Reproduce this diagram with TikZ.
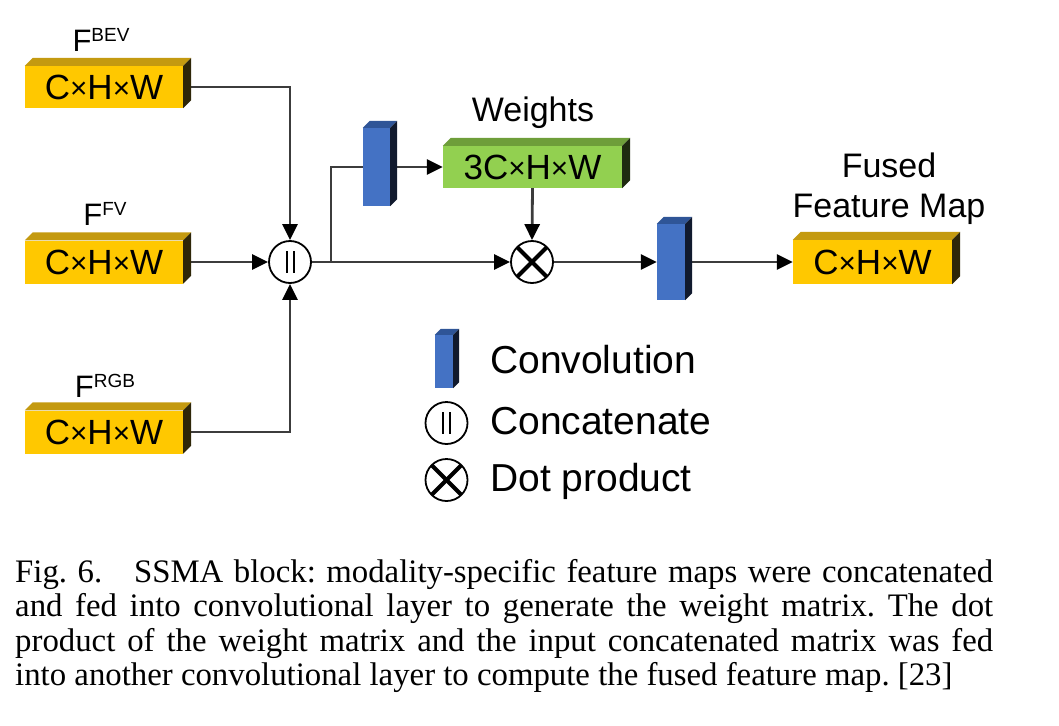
\documentclass[tikz,border=0pt]{standalone}
\usepackage{fontspec}
\setmainfont{Liberation Sans}
\newfontfamily\capfont{Liberation Serif}
\usetikzlibrary{arrows.meta,backgrounds}

\definecolor{yfront}{HTML}{FFC800}
\definecolor{ytop}{HTML}{C49A10}
\definecolor{yside}{HTML}{2E2608}
\definecolor{gfront}{HTML}{92D050}
\definecolor{gtop}{HTML}{6E9E3A}
\definecolor{gside}{HTML}{1E2A10}
\definecolor{bfront}{HTML}{4472C4}
\definecolor{btop}{HTML}{2F5597}
\definecolor{bside}{HTML}{111A2E}
\definecolor{linegray}{HTML}{3C3C3C}

\tikzset{
  slabnode/.style={inner sep=0pt, draw=none, text=black, font=\fontsize{35}{35}\selectfont},
  conn/.style={draw=linegray, line width=2.8pt, -{Triangle[length=16pt,width=15pt,color=black]}},
  plain/.style={draw=linegray, line width=2.8pt},
  opcircle/.style={circle, draw=black, line width=1.8pt, fill=white, minimum size=42pt, inner sep=0pt},
  lbl/.style={inner sep=0pt, font=\fontsize{34}{34}\selectfont},
  flbl/.style={inner sep=0pt, anchor=base, font=\fontsize{31}{31}\selectfont},
  leg/.style={inner sep=0pt, anchor=west, font=\fontsize{39}{39}\selectfont},
  capline/.style={inner sep=0pt, anchor=base west, font=\capfont\fontsize{32.8}{32.8}\selectfont\frenchspacing}
}

% #1 name, #2 centre, #3 width, #4 height, #5 depth, #6 colour prefix, #7 text
\newcommand\slab[7]{%
  \node[slabnode, minimum width=#3, minimum height=#4, fill=#6front] (#1) at #2 {#7};
  \fill[#6top] (#1.north west) -- ++(#5,-#5) -- ([shift={(#5,-#5)}]#1.north east) -- (#1.north east) -- cycle;
  \fill[#6side] (#1.north east) -- ++(#5,-#5) -- ([shift={(#5,-#5)}]#1.south east) -- (#1.south east) -- cycle;
}
\newcommand\supF[1]{F\raisebox{10pt}{\fontsize{19}{19}\selectfont #1}}
\newcommand\tms{\raisebox{1pt}{\scalebox{0.85}{×}}}

\begin{document}
\begin{tikzpicture}[x=1pt,y=-1pt]
\useasboundingbox (0,0) rectangle (1059,725);

% input feature maps
\slab{bev}{(104,87)}{158pt}{42pt}{8}{y}{C\tms H\tms W}
\slab{fv}{(104,262)}{158pt}{43pt}{8}{y}{C\tms H\tms W}
\slab{rgb}{(104,432)}{158pt}{43pt}{8}{y}{C\tms H\tms W}
\node[flbl] (lbev) at (101,52) {\supF{BEV}};
\node[flbl] (lfv) at (105,225) {\supF{FV}};
\node[flbl] (lrgb) at (105,397) {\supF{RGB}};

% operations
\node[opcircle] (cat) at (290,262) {};
\draw[line width=2pt] (cat.center) ++(-3.5,-11) -- ++(0,22);
\draw[line width=2pt] (cat.center) ++(3.5,-11) -- ++(0,22);
\node[opcircle] (dot) at (532,262) {};
\draw[line width=4pt] (dot.center) ++(-14.8,-14.8) -- ++(29.6,29.6);
\draw[line width=4pt] (dot.center) ++(14.8,-14.8) -- ++(-29.6,29.6);

% convolutions and weights
\slab{conv1}{(376.5,167)}{27pt}{78pt}{7}{b}{}
\slab{wts}{(532.5,167)}{179pt}{42pt}{8}{g}{3C\tms H\tms W}
\node[lbl] (lwts) at (533,113) {Weights};
\slab{conv2}{(671,262)}{28pt}{76pt}{7}{b}{}
\slab{fused}{(872.5,262)}{159pt}{44pt}{8}{y}{C\tms H\tms W}
\node[lbl, align=center] (lfused) at (889,189) {Fused\\[6pt]Feature Map};

\coordinate (split) at (331,262);

% connectors
\begin{pgfonlayer}{background}
\draw[conn] (bev.east) -| (cat.north);
\draw[conn] (fv.east) -- (cat.west);
\draw[conn] (rgb.east) -| (cat.south);
\draw[conn] (cat.east) -- (dot.west);
\draw[plain] (split) |- (conv1.west);
\draw[conn] (conv1.east) -- (wts.west);
\draw[conn] (wts.south) -- (dot.north);
\draw[conn] (dot.east) -- (conv2.west);
\draw[conn] (conv2.east) -- (fused.west);
\end{pgfonlayer}

% legend
\slab{legconv}{(444,361.5)}{18pt}{53pt}{6}{b}{}
\node[leg] (tconv) at (490,360) {Convolution};
\node[opcircle] (legcat) at (446.5,423) {};
\draw[line width=2pt] (legcat.center) ++(-3.5,-11) -- ++(0,22);
\draw[line width=2pt] (legcat.center) ++(3.5,-11) -- ++(0,22);
\node[leg] (tcat) at (490,421) {Concatenate};
\node[opcircle] (legdot) at (446.5,480) {};
\draw[line width=4pt] (legdot.center) ++(-14.8,-14.8) -- ++(29.6,29.6);
\draw[line width=4pt] (legdot.center) ++(14.8,-14.8) -- ++(-29.6,29.6);
\node[leg] (tdot) at (490,481) {Dot product};

% caption
\node[capline] (cap1) at (15,582) {\hbox to 978pt{Fig. 6.\hskip 0.8em plus 0.3em SSMA block: modality-specific feature maps were concatenated}};
\node[capline] (cap2) at (15,616.5) {\hbox to 978pt{and fed into convolutional layer to generate the weight matrix. The dot}};
\node[capline] (cap3) at (15,651) {\hbox to 978pt{product of the weight matrix and the input concatenated matrix was fed}};
\node[capline] (cap4) at (15,685.5) {into another convolutional layer to compute the fused feature map. [23]};
\end{tikzpicture}
\end{document}
